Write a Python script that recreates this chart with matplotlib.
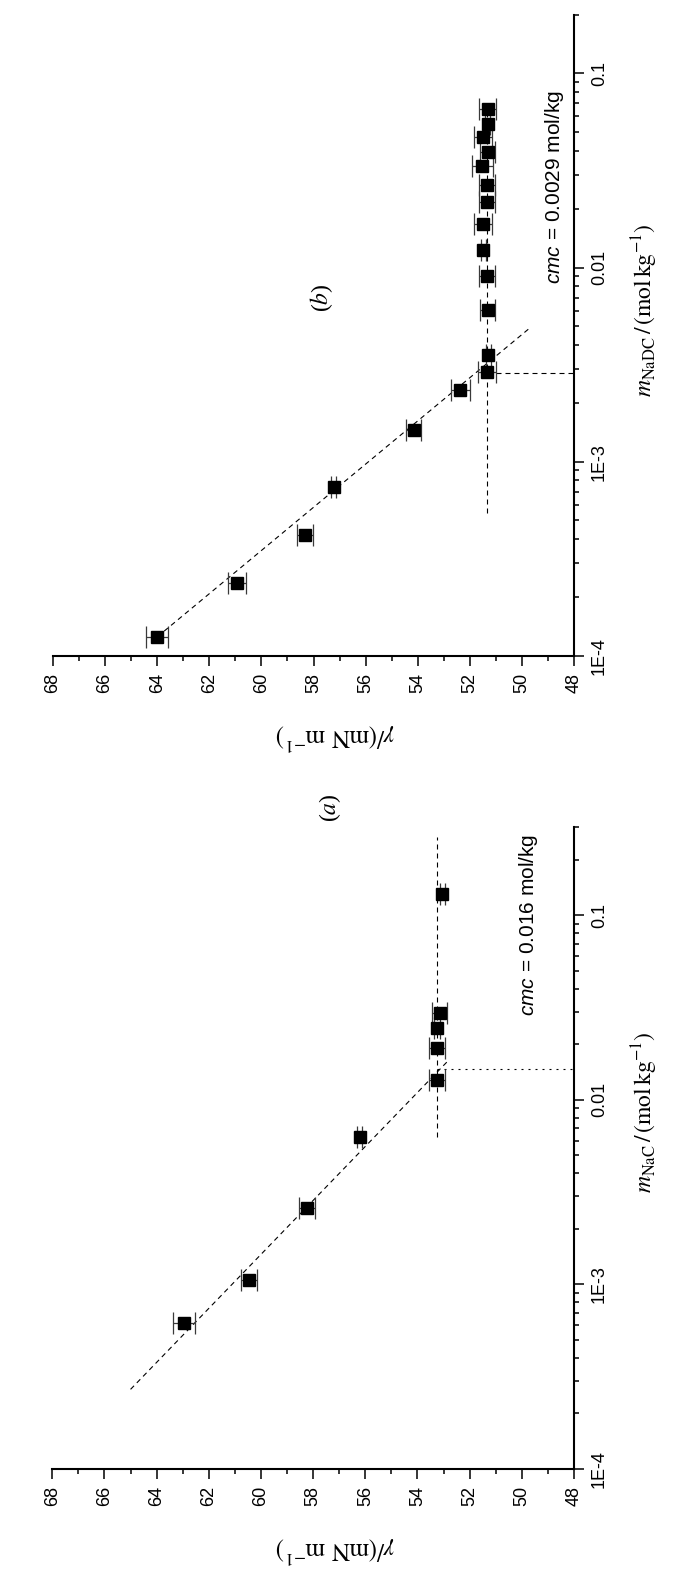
import matplotlib
matplotlib.use("Agg")
import matplotlib.pyplot as plt
from matplotlib.ticker import MultipleLocator, FixedLocator, FixedFormatter, NullFormatter, LogLocator

plt.rcParams['font.family'] = ['Liberation Sans', 'DejaVu Sans']
plt.rcParams['mathtext.fontset'] = 'stix'
plt.rcParams['mathtext.rm'] = 'Liberation Sans'
plt.rcParams['mathtext.it'] = 'Liberation Sans:italic'
plt.rcParams['mathtext.bf'] = 'Liberation Sans:bold'

# ---------------- data ----------------
# panel (a) NaC
m_a = [0.00062, 0.00105, 0.00258, 0.0063, 0.0128, 0.0191, 0.0246, 0.0295, 0.130]
gamma_a = [62.94, 60.46, 58.23, 56.21, 53.25, 53.25, 53.25, 53.15, 53.05]
err_a = [0.42, 0.30, 0.32, 0.10, 0.32, 0.30, 0.10, 0.30, 0.10]
fit_a_m = [2.7e-4, 0.0164]
fit_a_gamma = [65.0, 52.8]
plateau_a_m = [0.0063, 0.265]
plateau_a_gamma = [53.27, 53.27]
cmc_a_m = [0.0147, 0.0147]
cmc_a_gamma = [53.27, 48.0]

# panel (b) NaDC
m_b = [1.25e-4, 2.38e-4, 4.18e-4, 7.38e-4, 1.45e-3, 2.33e-3, 0.00289, 0.00353,
       0.00606, 0.00905, 0.01224, 0.0168, 0.0218, 0.0267, 0.0333, 0.0393,
       0.0469, 0.0546, 0.0656]
gamma_b = [64.01, 60.94, 58.33, 57.22, 54.16, 52.36, 51.35, 51.29,
           51.32, 51.35, 51.48, 51.48, 51.35, 51.35, 51.52, 51.32,
           51.48, 51.32, 51.32]
err_b = [0.41, 0.33, 0.30, 0.10, 0.30, 0.35, 0.35, 0.10,
         0.30, 0.30, 0.10, 0.35, 0.30, 0.30, 0.40, 0.30,
         0.35, 0.10, 0.33]
fit_b_m = [1.25e-4, 0.0049]
fit_b_gamma = [64.0, 49.68]
plateau_b_m = [5.45e-4, 0.0656]
plateau_b_gamma = [51.33, 51.33]
cmc_b_m = [0.00285, 0.00285]
cmc_b_gamma = [51.33, 48.0]

gamma_ticks = list(range(48, 69, 2))
m_ticks = [1e-4, 1e-3, 1e-2, 1e-1]
m_ticklabels = ['1E-4', '1E-3', '0.01', '0.1']

# ---------------- figure ----------------
W, H = 673, 1569
fig = plt.figure(figsize=(W / 100, H / 100), dpi=100)

ax_a = fig.add_axes([52.3 / W, (H - 1469) / H, (574 - 52.3) / W, 642 / H])
ax_b = fig.add_axes([53.0 / W, (H - 655.7) / H, (574 - 53.0) / W, 640.7 / H])

dash = (0, (4.5, 3.6))
dot = (0, (1.8, 4.5))


def style_axes(ax, ytop, mlabel, label_y):
    ax.set_xlim(68, 48)
    ax.set_yscale('log')
    ax.set_ylim(1e-4, ytop)
    for s in ('top', 'left'):
        ax.spines[s].set_visible(False)
    for s in ('bottom', 'right'):
        ax.spines[s].set_linewidth(1.5)
    ax.xaxis.set_ticks_position('bottom')
    ax.yaxis.set_ticks_position('right')
    ax.xaxis.set_major_locator(FixedLocator(gamma_ticks))
    ax.xaxis.set_minor_locator(MultipleLocator(1))
    ax.xaxis.set_major_formatter(FixedFormatter([str(t) for t in gamma_ticks]))
    ax.yaxis.set_major_locator(FixedLocator(m_ticks))
    ax.yaxis.set_major_formatter(FixedFormatter(m_ticklabels))
    ax.yaxis.set_minor_locator(LogLocator(base=10, subs=range(2, 10), numticks=20))
    ax.yaxis.set_minor_formatter(NullFormatter())
    ax.tick_params(which='major', direction='out', length=7.2, width=1.1,
                   labelsize=13, pad=5)
    ax.tick_params(which='minor', direction='out', length=3.6, width=1.1)
    ax.tick_params(axis='x', labelrotation=90)
    ax.tick_params(axis='y', labelrotation=90)
    for lab in ax.get_yticklabels():
        lab.set_verticalalignment('center')
    ax.set_xlabel(r'$\gamma/(\mathrm{mN\ m^{-1}})$', fontsize=18, rotation=180)
    ax.xaxis.label.set_verticalalignment('center')
    ax.xaxis.label.set_horizontalalignment('center')
    ax.xaxis.set_label_coords(0.542, -0.126)
    ax.yaxis.set_label_position('right')
    ax.set_ylabel(mlabel, fontsize=17, rotation=90)
    ax.yaxis.label.set_verticalalignment('center')
    ax.yaxis.label.set_horizontalalignment('center')
    ax.yaxis.label.set_rotation_mode('default')
    ax.yaxis.set_label_coords(1.135, label_y)
    ax.patch.set_visible(False)


style_axes(ax_a, 0.3, r'$m_{\mathrm{NaC}}\,/\,(\mathrm{mol\,kg^{-1}})$', 0.556)
style_axes(ax_b, 0.2, r'$m_{\mathrm{NaDC}}\,/\,(\mathrm{mol\,kg^{-1}})$', 0.54)

# ---------------- data drawing ----------------
for ax, m, g, e in ((ax_a, m_a, gamma_a, err_a), (ax_b, m_b, gamma_b, err_b)):
    ax.errorbar(g, m, xerr=e, fmt='none', ecolor='#3a3a3a', elinewidth=0.9,
                capsize=8, capthick=0.9, zorder=3)
    ax.plot(g, m, 's', color='black', markersize=8, zorder=4)

ax_a.plot(fit_a_gamma, fit_a_m, color='black', lw=0.8, ls=dash, zorder=2)
ax_a.plot(plateau_a_gamma, plateau_a_m, color='black', lw=0.8, ls=dash, zorder=2)
ax_a.plot(cmc_a_gamma, cmc_a_m, color='black', lw=0.8, ls=dot, zorder=2)

ax_b.plot(fit_b_gamma, fit_b_m, color='black', lw=0.8, ls=dash, zorder=2)
ax_b.plot(plateau_b_gamma, plateau_b_m, color='black', lw=0.8, ls=dash, zorder=2)
ax_b.plot(cmc_b_gamma, cmc_b_m, color='black', lw=0.8, ls=dash, zorder=2)

# ---------------- annotations ----------------
ax_a.text(0.912, 0.847, r'$cmc$ = 0.016 mol/kg', transform=ax_a.transAxes,
          rotation=90, ha='center', va='center', fontsize=15, math_fontfamily='custom')
ax_b.text(0.9626, 0.732, r'$cmc$ = 0.0029 mol/kg', transform=ax_b.transAxes,
          rotation=90, ha='center', va='center', fontsize=15, math_fontfamily='custom')
ax_a.text(0.532, 1.03, r'($\mathit{a}$)', transform=ax_a.transAxes,
          rotation=90, ha='center', va='center', fontsize=17, family='Liberation Serif')
ax_b.text(0.516, 0.558, r'($\mathit{b}$)', transform=ax_b.transAxes,
          rotation=90, ha='center', va='center', fontsize=17, family='Liberation Serif')

fig.savefig('out.png', dpi=100)
